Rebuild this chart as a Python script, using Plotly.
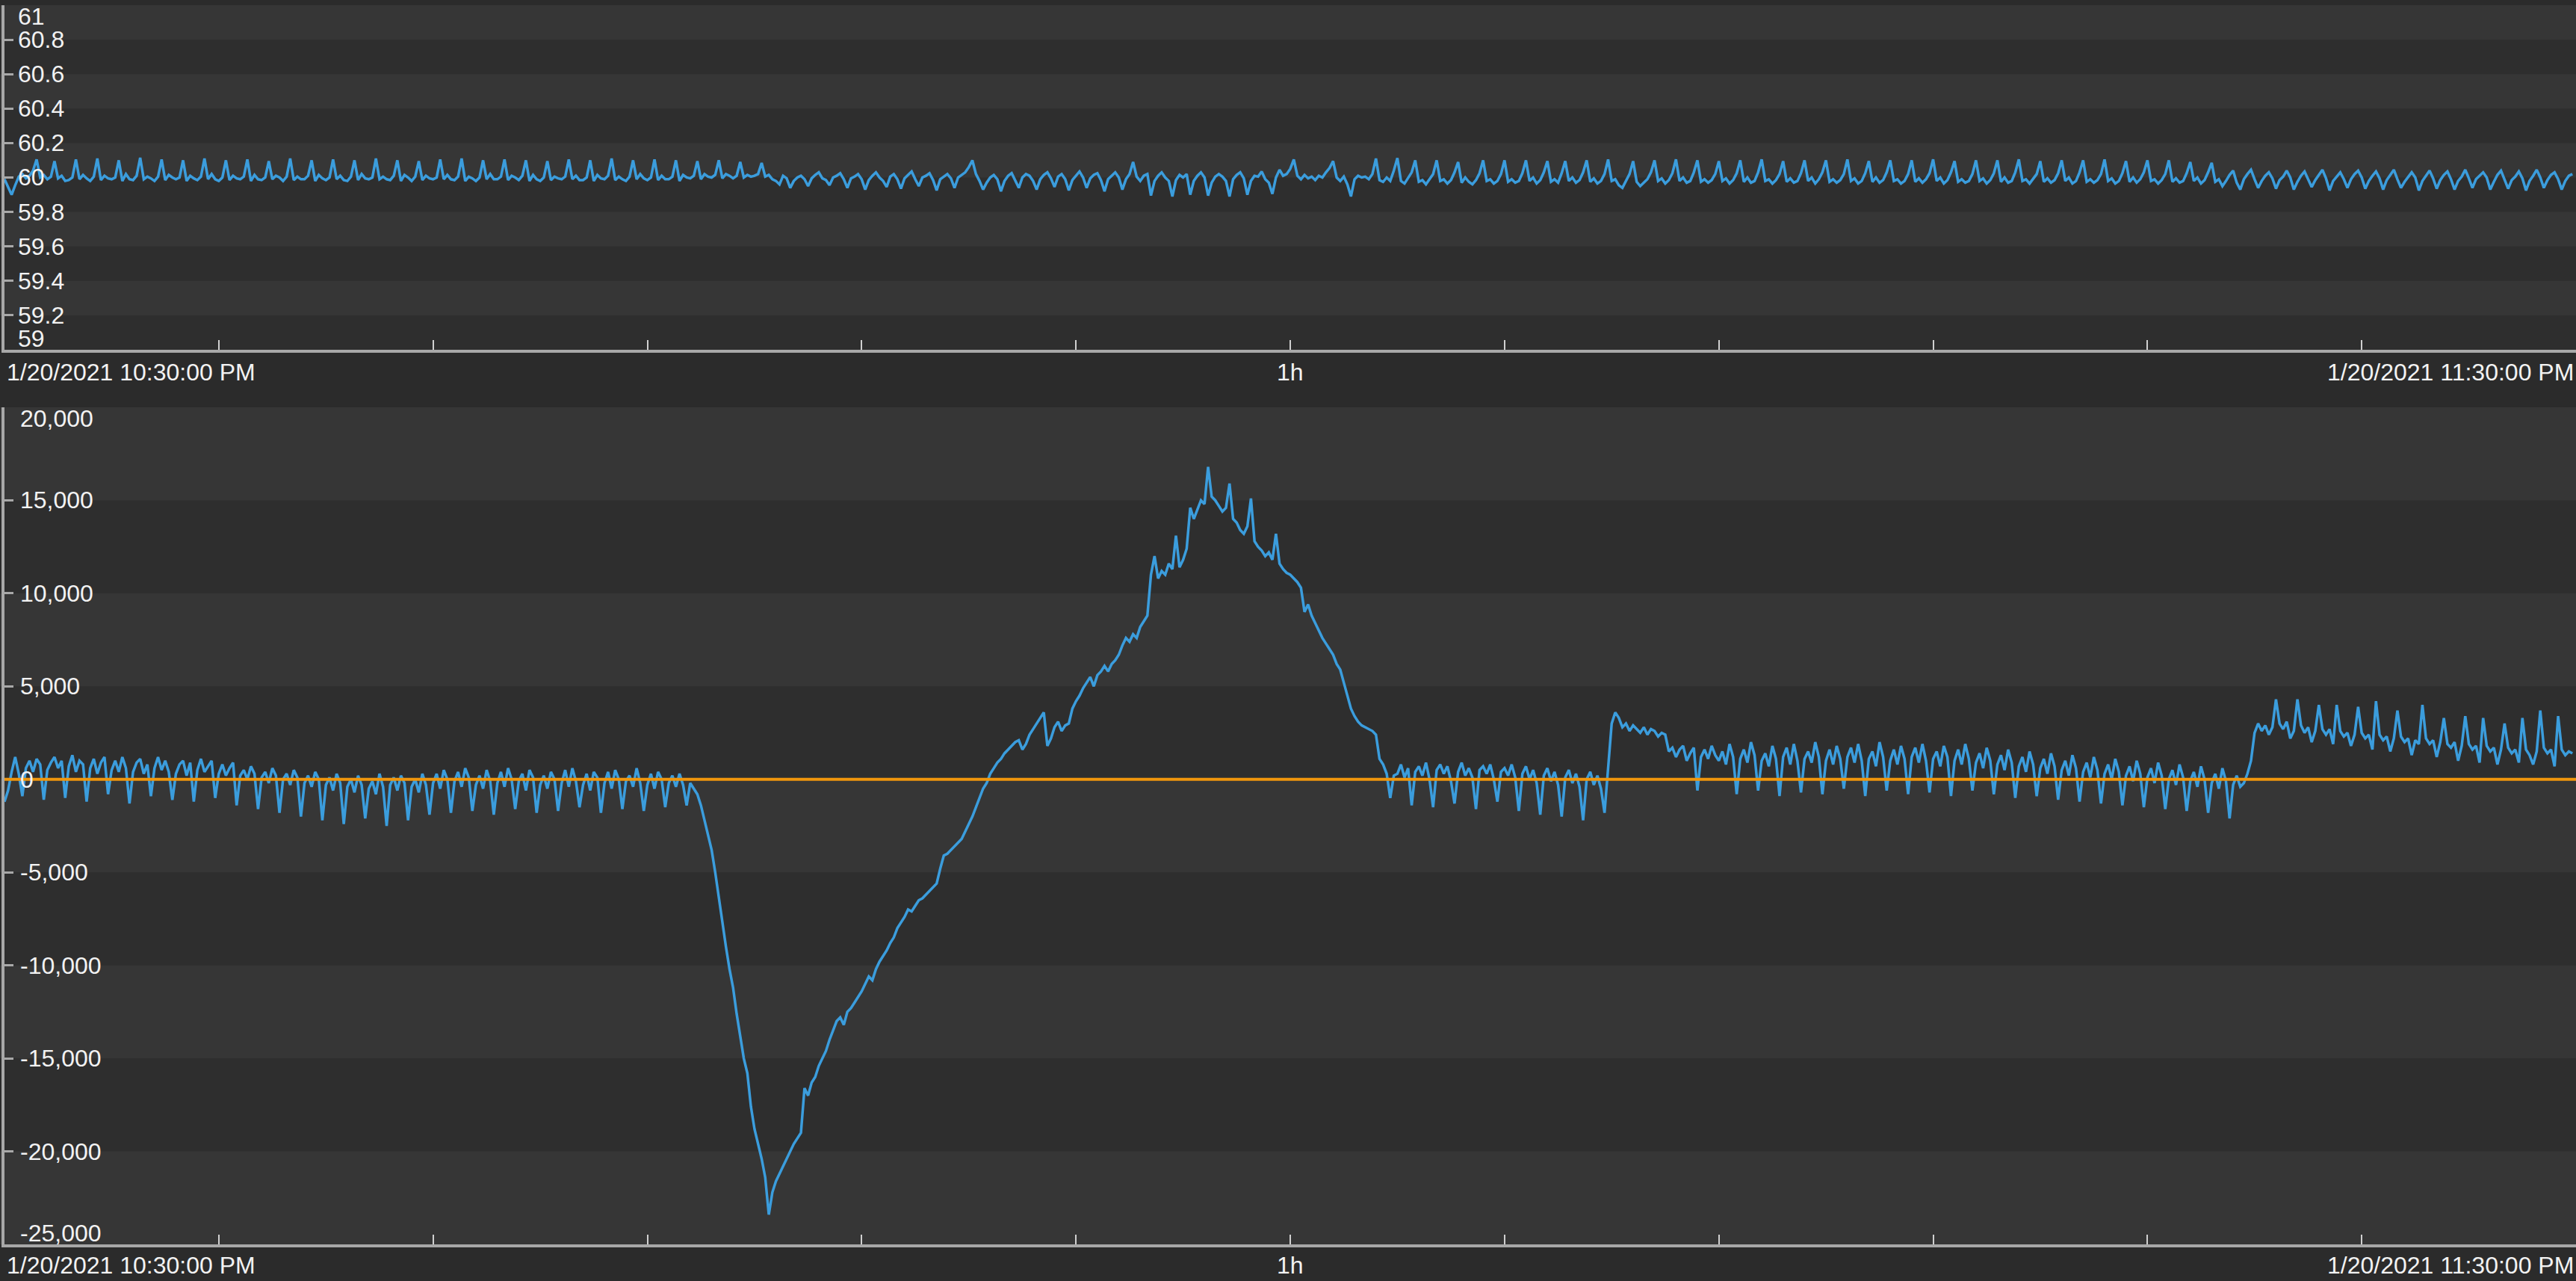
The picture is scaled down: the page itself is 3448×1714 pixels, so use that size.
import datetime as dt
import plotly.graph_objects as go

# ---------------------------------------------------------------------------
# Data: two tags sampled every 6 s starting 1/20/2021 10:24:00 PM
# ---------------------------------------------------------------------------
sample_start = dt.datetime(2021, 1, 20, 22, 24, 0)
sample_step_s = 6

# System frequency, stored as offset from 60 Hz in mHz
frequency_offset_mhz = [
    -10, -55, -100, -45, 5, 20, -5, 10, 40, 105, 0, 15, -10, 5, 95, -5, 10, -20, -15, 0, 105, -10, 15, -5, -20, 5, 110, -15, 10, -5,
    -10, 0, 100, -20, 20, -10, -15, 10, 115, -10, 5, -5, -20, 5, 105, -15, 15, 0, -10, 0, 100, -20, 10, -5, -15, 5, 110, -10, 20, -10,
    -20, 0, 100, -15, 10, -5, -10, 5, 105, -20, 15, -10, -15, 0, 95, -10, 10, 0, -20, 5, 110, -15, 5, -10, -10, 10, 100, -20, 15, -5,
    -15, 0, 105, -10, 10, -15, -20, 5, 100, -15, 20, -5, -10, 0, 110, -10, 5, -10, -15, 10, 100, -20, 15, 0, -20, 5, 95, -15, 10, -5,
    -10, 0, 105, -10, 15, -10, -15, 5, 110, -20, 5, -5, -20, 0, 100, -10, 20, -10, -10, 5, 105, -15, 10, 0, -15, 10, 100, -20, 15, -10,
    -20, 0, 95, -15, 5, -5, -10, 5, 105, -10, 10, -15, -15, 0, 100, -20, 15, -5, -10, 10, 110, -15, 5, -10, -20, 5, 100, -10, 20, -5,
    -15, 0, 105, -15, 10, -10, -10, 5, 100, -20, 15, 0, -5, 10, 95, -10, 20, 5, 0, 15, 100, -5, 20, 10, -5, 10, 90, 0, 15, 5,
    10, 20, 85, 5, 15, -10, -20, -40, 10, -5, -60, -20, 0, 10, -10, -50, -5, 15, 30, -5, -15, -45, 0, 10, 25, -10, -60, -5, 5, 20,
    -10, -70, -15, 10, 30, 0, -20, -55, 5, 20, -10, -65, -5, 15, 35, -10, -50, 0, 10, 25, -15, -75, -10, 5, 20, -5, -60, 0, 15, 30,
    60, 100, 20, -20, -70, -30, 0, 15, -10, -80, -20, 10, 25, -15, -60, 0, 20, 10, -20, -70, -10, 15, 30, -5, -55, 5, 20, -10, -75, -15,
    10, 35, 0, -60, -5, 15, 25, -15, -80, -10, 10, 30, 0, -70, -10, 20, 90, 5, -20, 10, 20, -105, -20, 10, 30, 0, -20, -110, -15, 15,
    0, 20, -100, -20, 10, 30, 0, -105, -30, 5, 20, 5, -20, -110, -10, 15, 30, -5, -100, -20, 10, 5, 35, -10, -30, -95, 0, 45, 10, 20,
    50, 105, 10, -10, 15, -5, 5, -15, 10, 0, 30, 55, 95, 0, -20, 5, -40, -110, -10, 10, 0, 5, -10, 20, 110, -15, -25, 0, -20, 40,
    113, -20, -35, 0, 30, 100, -25, -15, -40, -10, 20, 100, -20, -10, -35, -15, 30, 90, -30, 0, -25, -40, -15, 25, 100, -20, -10, -35, -20, 20,
    100, -25, -10, -30, -20, 25, 100, -20, 0, -35, -15, 30, 95, -25, -10, -30, 25, 95, -20, 0, -30, -15, 30, 100, -25, -5, -35, -20, 20, 105,
    -20, -10, -45, -60, -20, 20, 95, -25, -50, -30, -10, 30, 100, -20, -5, -35, -15, 25, 105, -20, 0, -30, -20, 30, 100, -25, -10, -30, -15, 20,
    95, -20, -5, -35, -15, 25, 100, -25, 0, -30, -20, 30, 105, -20, -10, -35, -15, 20, 95, -25, -5, -30, -20, 25, 100, -20, 0, -35, -10, 30,
    100, -25, -10, -30, -15, 20, 105, -20, -5, -35, -20, 25, 95, -25, 0, -30, -15, 30, 100, -20, -10, -35, -20, 20, 100, -25, -5, -30, -10, 25,
    105, -20, 0, -35, -15, 30, 95, -25, -10, -30, -20, 20, 100, -20, -5, -35, -15, 25, 100, -25, 0, -30, -20, 30, 105, -20, -10, -35, -10, 20,
    95, -25, -5, -30, -15, 25, 100, -20, 0, -35, -20, 30, 100, -25, -10, -30, -15, 20, 105, -20, -5, -35, -20, 25, 95, -25, 0, -30, -10, 30,
    100, -20, -10, -35, -15, 20, 100, -25, -5, -30, -20, 25, 90, -20, 0, -35, -15, 30, 85, -25, -10, -50, -20, 15, 40, -30, -70, -10, 20, 45,
    -10, -60, -20, 10, 30, -5, -65, -15, 5, 40, 0, -70, -25, 10, 35, -10, -55, -15, 15, 45, -5, -75, -20, 5, 30, -10, -60, -10, 20, 40,
    0, -65, -20, 10, 35, -5, -70, -15, 15, 45, -10, -60, -25, 5, 30, 0, -75, -20, 10, 40, -5, -65, -15, 15, 35, -10, -70, -20, 5, 45,
    -5, -60, -10, 10, 30, 0, -70, -25, 15, 40, -10, -65, -15, 5, 35, -5, -75, -20, 10, 45, 0, -60, -15, 15, 30, -10, -70, -20, 10, 20,
]

# Area control error, stored in hundreds
ace_hundreds = [
    -12, -6, 4, 12, 3, -9, 6, 10, 4, 11, 8, -11, 5, 9, 12, 6, 10, -10, 7, 13, 4, 10, 8, -12, 6, 11, 3, 9, 12, -8,
    5, 10, 4, 12, 6, -13, 4, 9, 11, 3, 8, -9, 6, 12, 5, 10, 4, -11, 3, 8, 10, 2, 9, -12, 5, 11, 4, 7, 10, -10,
    3, 8, 2, 6, 9, -14, 2, 5, 0, 7, 3, -16, 1, 4, -2, 6, 2, -18, 0, 3, -3, 5, 1, -20, -2, 2, -4, 4, 0, -22,
    -3, 1, -6, 3, -2, -24, -4, 0, -7, 2, -3, -21, -5, -1, -8, 3, -4, -25, -3, 1, -6, 2, -2, -22, -4, 0, -7, 3, -3, -19,
    -2, 3, -5, 5, 0, -18, -1, 4, -4, 6, 1, -17, -3, 2, -5, 5, -1, -19, -2, 4, -4, 6, 0, -16, -1, 3, -6, 5, 1, -18,
    -3, 2, -5, 4, 0, -17, -2, 5, -4, 6, -1, -15, -3, 3, -6, 4, 1, -18, -2, 4, -5, 5, 0, -16, -1, 2, -4, 6, -2, -17,
    -3, 3, -5, 4, 0, -15, -2, 2, -4, 3, -3, -14, -2, -5, -8, -14, -22, -30, -38, -50, -64, -78, -90, -102, -112, -126, -138, -150, -158, -176,
    -188, -196, -204, -214, -234, -222, -216, -212, -208, -204, -200, -196, -193, -190, -166, -170, -163, -160, -154, -150, -146, -140, -135, -130, -128, -132, -125, -123, -120, -117,
    -114, -110, -106, -108, -102, -98, -95, -92, -88, -85, -80, -77, -74, -70, -71, -68, -65, -64, -62, -60, -58, -56, -48, -41, -40, -38, -36, -34, -32, -28,
    -24, -20, -15, -10, -5, -2, 3, 6, 9, 11, 14, 16, 18, 20, 21, 16, 19, 24, 27, 30, 33, 36, 18, 22, 28, 31, 26, 29, 30, 38,
    42, 45, 49, 52, 55, 50, 56, 58, 61, 58, 62, 64, 67, 72, 76, 74, 78, 76, 82, 85, 88, 110, 120, 108, 112, 110, 116, 113, 131, 114,
    118, 124, 146, 140, 145, 150, 148, 168, 152, 150, 147, 144, 146, 159, 140, 138, 134, 132, 136, 151, 128, 125, 123, 120, 122, 118, 132, 116, 113, 111,
    110, 108, 106, 103, 90, 94, 88, 84, 80, 76, 73, 70, 67, 62, 59, 52, 45, 38, 34, 31, 29, 28, 27, 26, 24, 11, 8, 3, -10, 2,
    3, 8, 1, 6, -14, 4, 7, 2, 9, 0, -15, 5, 8, 3, 7, -1, -13, 4, 9, 2, 6, 1, -16, 5, 7, 3, 8, 0, -12, 4,
    6, 2, 8, 1, -17, 3, 7, 0, 5, -2, -19, 2, 6, -1, 4, -3, -20, 1, 5, -2, 3, -4, -22, 0, 4, -3, 2, -5, -18, 5,
    30, 36, 33, 28, 30, 26, 29, 27, 25, 28, 24, 27, 26, 23, 25, 24, 15, 17, 12, 16, 18, 10, 14, 17, -6, 12, 16, 11, 18, 13,
    10, 15, 8, 19, 12, -8, 11, 16, 9, 20, 13, -6, 10, 14, 7, 18, 11, -9, 12, 17, 8, 19, 10, -7, 11, 15, 9, 20, 12, -8,
    10, 16, 8, 18, 11, -5, 12, 17, 9, 19, 10, -9, 11, 15, 7, 20, 12, -6, 10, 16, 8, 18, 11, -8, 12, 17, 9, 19, 10, -7,
    11, 15, 7, 18, 12, -9, 10, 16, 8, 19, 11, -6, 9, 14, 6, 17, 10, -8, 8, 13, 5, 16, 9, -10, 7, 12, 4, 15, 8, -9,
    6, 11, 3, 14, 7, -11, 5, 10, 2, 13, 6, -12, 4, 9, 1, 12, 5, -13, 3, 8, 0, 11, 4, -14, 2, 7, -1, 10, 3, -15,
    1, 6, -2, 9, 2, -16, 0, 5, -3, 8, 1, -17, -1, 4, -4, 7, 0, -18, -2, 3, -5, 6, -1, -21, -3, 2, -4, -2, 3, 10,
    25, 30, 26, 29, 24, 28, 43, 30, 27, 31, 22, 26, 43, 29, 25, 28, 20, 26, 40, 27, 24, 27, 19, 40, 26, 23, 25, 18, 24, 39,
    25, 22, 24, 16, 42, 24, 21, 23, 15, 22, 37, 23, 20, 22, 13, 21, 19, 40, 22, 19, 21, 12, 20, 33, 19, 17, 20, 10, 18, 34,
    19, 16, 18, 9, 33, 18, 15, 17, 8, 16, 30, 17, 14, 16, 9, 33, 16, 13, 8, 15, 37, 17, 14, 16, 7, 34, 16, 13, 15, 14,
]

ace_reference = 0

# Axis ticks and labels
frequency_ticks = [59.0, 59.2, 59.4, 59.6, 59.8, 60.0, 60.2, 60.4, 60.6, 60.8, 61.0]
frequency_tick_labels = ["59", "59.2", "59.4", "59.6", "59.8", "60", "60.2", "60.4", "60.6", "60.8", "61"]
ace_ticks = [-25000, -20000, -15000, -10000, -5000, 0, 5000, 10000, 15000, 20000]
ace_tick_labels = ["-25,000", "-20,000", "-15,000", "-10,000", "-5,000", "0",
                   "5,000", "10,000", "15,000", "20,000"]
time_ticks = [dt.datetime(2021, 1, 20, 22, 30) + dt.timedelta(minutes=6 * k) for k in range(11)]
time_window = [dt.datetime(2021, 1, 20, 22, 24), dt.datetime(2021, 1, 20, 23, 36)]
time_label_left = "1/20/2021 10:30:00 PM"
time_label_mid = "1h"
time_label_mid_at = dt.datetime(2021, 1, 20, 23, 0)
time_label_right = "1/20/2021 11:30:00 PM"

# ---------------------------------------------------------------------------
# Derived series
# ---------------------------------------------------------------------------
freq_times = [sample_start + dt.timedelta(seconds=sample_step_s * i) for i in range(len(frequency_offset_mhz))]
freq_values = [60 + v / 1000 for v in frequency_offset_mhz]
ace_times = [sample_start + dt.timedelta(seconds=sample_step_s * i) for i in range(len(ace_hundreds))]
ace_values = [v * 100 for v in ace_hundreds]

# ---------------------------------------------------------------------------
# Styling
# ---------------------------------------------------------------------------
W, H = 3448, 1714
PAPER = "#2b2b2b"
BAND_DARK = "#2e2e2e"
BAND_LIGHT = "#363636"
AXIS = "#a8a8a8"
TEXT = "#f2f2f2"
LINE_BLUE = "#3b9ddd"
LINE_ORANGE = "#f0960c"
FONT = "Liberation Sans, Arial, sans-serif"
FS = 32

x_left = 6 / W
top_dom = [1 - 468 / H, 1 - 7 / H]
bot_dom = [1 - 1665 / H, 1 - 545 / H]

fig = go.Figure()
fig.add_trace(go.Scatter(x=freq_times, y=freq_values, mode="lines",
                         line=dict(color=LINE_BLUE, width=3.5), xaxis="x", yaxis="y",
                         hoverinfo="skip", showlegend=False))
fig.add_trace(go.Scatter(x=ace_times, y=ace_values, mode="lines",
                         line=dict(color=LINE_BLUE, width=3.5), xaxis="x2", yaxis="y2",
                         hoverinfo="skip", showlegend=False))

xaxis_common = dict(
    range=time_window, type="date", showline=True, linecolor=AXIS, linewidth=4,
    ticks="inside", ticklen=13, tickwidth=2, tickcolor="#d0d0d0",
    tickvals=time_ticks, showticklabels=False, showgrid=False, zeroline=False,
    domain=[x_left, 1], fixedrange=True,
)
yaxis_common = dict(
    showline=True, linecolor=AXIS, linewidth=4, ticks="inside", ticklen=12,
    tickwidth=3, tickcolor=AXIS, showticklabels=False, showgrid=False,
    zeroline=False, fixedrange=True,
)

shapes = []
# alternating horizontal bands between y ticks
for k in range(len(frequency_ticks) - 1):
    if k % 2 == 1:
        shapes.append(dict(type="rect", xref="paper", x0=0, x1=1, yref="y",
                           y0=frequency_ticks[k], y1=frequency_ticks[k + 1],
                           fillcolor=BAND_LIGHT, line=dict(width=0), layer="below"))
for k in range(len(ace_ticks) - 1):
    if k % 2 == 0:
        shapes.append(dict(type="rect", xref="paper", x0=0, x1=1, yref="y2",
                           y0=ace_ticks[k], y1=ace_ticks[k + 1],
                           fillcolor=BAND_LIGHT, line=dict(width=0), layer="below"))
# zero reference line
shapes.append(dict(type="line", xref="x2 domain", x0=0, x1=1, yref="y2",
                   y0=ace_reference, y1=ace_reference,
                   line=dict(color=LINE_ORANGE, width=4), layer="above"))

annotations = []
font = dict(family=FONT, size=FS, color=TEXT)


def y_labels(ticks, labels, yref, xshift):
    out = []
    n = len(ticks)
    for k, (v, t) in enumerate(zip(ticks, labels)):
        anchor, shift = "middle", 0
        if k == 0:
            anchor, shift = "bottom", -4
        elif k == n - 1:
            anchor, shift = "top", 4
        out.append(dict(x=0, xref="paper", xanchor="left", xshift=xshift,
                        y=v, yref=yref, yanchor=anchor, yshift=shift, text=t,
                        showarrow=False, font=font, borderpad=0))
    return out


annotations += y_labels(frequency_ticks, frequency_tick_labels, "y", 23)
annotations += y_labels(ace_ticks, ace_tick_labels, "y2", 26)

for ypos in (1 - 498 / H, 1 - 1693 / H):
    annotations.append(dict(x=0, xref="paper", xanchor="left", xshift=8, y=ypos,
                            yref="paper", yanchor="middle", text=time_label_left,
                            showarrow=False, font=font, borderpad=0))
    annotations.append(dict(x=time_label_mid_at, xref="x", xanchor="center", y=ypos,
                            yref="paper", yanchor="middle", text=time_label_mid,
                            showarrow=False, font=font, borderpad=0))
    annotations.append(dict(x=1, xref="paper", xanchor="right", xshift=-2, y=ypos,
                            yref="paper", yanchor="middle", text=time_label_right,
                            showarrow=False, font=font, borderpad=0))

fig.update_layout(
    width=W, height=H, margin=dict(l=0, r=0, t=0, b=0, pad=0),
    paper_bgcolor=PAPER, plot_bgcolor=BAND_DARK, showlegend=False,
    xaxis=dict(anchor="y", **xaxis_common),
    yaxis=dict(anchor="x", domain=top_dom, range=[59, 61], tickvals=frequency_ticks, **yaxis_common),
    xaxis2=dict(anchor="y2", **xaxis_common),
    yaxis2=dict(anchor="x2", domain=bot_dom, range=[-25000, 20000], tickvals=ace_ticks, **yaxis_common),
    shapes=shapes, annotations=annotations,
    font=dict(family=FONT, size=FS, color=TEXT),
)

fig.write_html("out.html", config={"displayModeBar": False, "staticPlot": True})
